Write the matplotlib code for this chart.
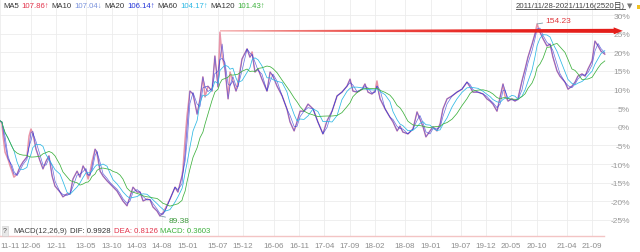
import numpy as np
import pandas as pd
import matplotlib
matplotlib.use("Agg")
import matplotlib.pyplot as plt
from matplotlib.lines import Line2D
from matplotlib.patches import Polygon, Rectangle
from matplotlib.colors import LinearSegmentedColormap
from matplotlib.transforms import IdentityTransform

plt.rcParams['font.family'] = ['Liberation Sans', 'Noto Sans CJK SC', 'DejaVu Sans']

# sampled closes: bar index (0..2519) and % change shown on the right axis
bar = [0, 8, 12, 21, 33, 42, 50, 58, 71, 83, 96, 112, 121, 129, 137, 150, 167, 179, 192, 204,
       217, 229, 250, 262, 279, 292, 304, 321, 333, 346, 358, 367, 375, 383, 396, 404, 417, 429, 446, 458,
       471, 487, 500, 512, 529, 541, 554, 571, 583, 596, 612, 625, 637, 654, 666, 679, 687, 708, 729, 741,
       758, 762, 771, 779, 791, 804, 821, 833, 845, 854, 866, 883, 895, 908, 916, 925, 937, 950, 958, 970,
       983, 991, 1008, 1029, 1041, 1050, 1062, 1075, 1091, 1112, 1125, 1137, 1154, 1175, 1195, 1208, 1225, 1237, 1250, 1266,
       1283, 1304, 1324, 1345, 1362, 1383, 1404, 1424, 1445, 1458, 1470, 1487, 1508, 1520, 1533, 1549, 1562, 1570, 1583, 1604,
       1624, 1637, 1654, 1666, 1678, 1699, 1720, 1737, 1749, 1762, 1774, 1791, 1803, 1820, 1833, 1845, 1862, 1883, 1903, 1924,
       1945, 1958, 1970, 1991, 2012, 2028, 2041, 2053, 2070, 2083, 2095, 2103, 2116, 2132, 2145, 2157, 2174, 2187, 2199, 2216,
       2228, 2237, 2249, 2262, 2278, 2291, 2303, 2320, 2332, 2353, 2366, 2382, 2395, 2407, 2424, 2437, 2449, 2466, 2478, 2491,
       2503, 2519]
close_pct = [1.6, 1.0, -2.0, -6.8, -8.6, -10.5, -11.9, -13.5, -12.7, -10.8, -9.4, -8.1, -2.5, -0.6, -1.9, -6.0, -9.2, -11.3, -9.2, -7.8,
             -13.2, -15.9, -17.5, -18.8, -18.0, -18.0, -14.0, -11.9, -13.5, -10.5, -11.9, -14.0, -12.1, -9.4, -6.0, -7.3, -11.9, -13.2, -14.5, -15.3,
             -16.2, -17.2, -18.6, -19.9, -21.2, -18.8, -16.2, -17.5, -17.5, -19.9, -19.4, -19.6, -21.5, -22.6, -23.9, -23.1, -22.1, -19.4, -16.2, -17.5,
             -13.2, -11.3, -3.3, 2.9, 9.6, 8.8, 3.4, 7.5, 13.4, 8.0, 10.9, 9.6, 19.0, 10.7, 25.4, 19.0, 15.5, 7.5, 14.7, 12.3,
             9.6, 12.0, 18.2, 20.9, 18.7, 20.1, 14.7, 15.5, 12.8, 9.6, 14.7, 13.6, 10.9, 8.3, 4.8, 1.3, -1.1, 1.3, 4.2, 4.2,
             6.1, 4.8, 1.3, -1.9, 1.6, 4.2, 8.3, 9.3, 10.9, 12.8, 9.6, 9.3, 10.1, 11.5, 9.3, 8.8, 9.6, 12.3, 7.5, 4.8,
             2.6, 1.3, -1.1, 0.2, -1.4, -1.9, -0.6, 4.0, 2.1, 0.0, -2.7, -1.1, 0.0, -1.1, 0.8, 4.8, 7.5, 8.3, 9.3, 10.1,
             12.0, 10.7, 9.3, 9.3, 8.8, 7.5, 6.9, 6.1, 4.2, 8.0, 11.5, 8.3, 6.9, 7.5, 6.9, 7.5, 12.3, 15.5, 18.7, 22.2,
             24.9, 27.6, 25.4, 23.6, 21.7, 22.2, 18.7, 15.0, 13.6, 12.0, 10.1, 10.9, 12.0, 13.6, 14.2, 13.6, 15.5, 17.7, 23.0, 21.7,
             20.3, 19.5]

tick_bars = [0, 129, 233, 358, 466, 571, 675, 783, 908, 1012, 1141, 1245, 1350, 1458, 1562, 1687,
             1795, 1920, 2024, 2128, 2237, 2362, 2466]
tick_labels = ['11-11', '12-06', '12-11', '13-05', '13-10', '14-03', '14-08', '15-01', '15-07', '15-12',
               '16-06', '16-11', '17-04', '17-09', '18-02', '18-08', '19-01', '19-07', '19-12', '20-05',
               '20-10', '21-04', '21-09']
pct_ticks = list(range(-25, 31, 5))

ma_names = ['MA5', 'MA10', 'MA20', 'MA60', 'MA120']
ma_windows = [5, 10, 20, 60, 120]
ma_values = ['107.86↑', '107.04↓', '106.14↑', '104.17↑', '101.43↑']
ma_colors = ['#e3344c', '#7b93dc', '#2435d8', '#2db8e4', '#3db13d']

high_label = '154.23'
low_label = '89.38'
date_range = '2011/11/28-2021/11/16(2520日)'
macd_name = 'MACD(12,26,9)'
macd_texts = ['DIF: 0.9928', 'DEA: 0.8126', 'MACD: 0.3603']
macd_colors = ['#333333', '#e3344c', '#3db13d']

W, H = 640, 253
AXW = 625
fig = plt.figure(figsize=(W / 100, H / 100), dpi=100)
ax = fig.add_axes([0, 16 / H, AXW / W, 237 / H])
XL, YL = (0, AXW * 4.165), (-29.3, 34.3)

s = pd.Series(close_pct, index=pd.to_datetime(bar, unit='D'))
mas = {w: s.rolling(f'{w}D', min_periods=1).mean().values for w in ma_windows}

# candle-ish price trace
ax.plot(bar, close_pct, color='#e06a86', lw=1.1, alpha=0.7, zorder=3)
ax.plot(bar, mas[10], color='#6f5fd0', lw=0.55, zorder=4)
ax.plot(bar, mas[20], color=ma_colors[2], lw=0.5, alpha=0.7, zorder=4)
ax.plot(bar, mas[60], color=ma_colors[3], lw=0.55, zorder=4)
ax.plot(bar, mas[120], color=ma_colors[4], lw=0.55, zorder=4)

ax.set_xticks(tick_bars)
ax.set_xticklabels(tick_labels)
ax.set_yticks(pct_ticks)
ax.set_yticklabels([f'{v}%' for v in pct_ticks])
ax.yaxis.tick_right()
ax.tick_params(axis='x', length=0, pad=4.5, labelsize=5.8, labelcolor='#8c8c8c')
ax.tick_params(axis='y', length=0, pad=3.6, labelsize=6, labelcolor='#9a9a9a')
for lbl in ax.get_yticklabels():
    lbl.set_ha('right')
ax.get_xticklabels()[0].set_ha('left')
ax.grid(color='#ececec', lw=0.6)
ax.set_axisbelow(True)
for side in ax.spines:
    ax.spines[side].set_visible(False)
ax.axhline(YL[0], xmin=0, xmax=604 / AXW, color='#f3c4c4', lw=1.0, clip_on=False)

# high / low marks
arr = np.array(close_pct)
i_hi, i_lo = arr.argmax(), arr.argmin()
ax.annotate(high_label, xy=(bar[i_hi], arr[i_hi]), xytext=(6, 2.5), textcoords='offset points',
            ha='left', va='center', fontsize=6, color='#e0393e',
            arrowprops=dict(arrowstyle='-', color='#7a9aa8', lw=0.6, shrinkA=0, shrinkB=0))
ax.annotate(low_label, xy=(bar[i_lo], arr[i_lo]), xytext=(6, -3), textcoords='offset points',
            ha='left', va='center', fontsize=6, color='#3c9a3c',
            arrowprops=dict(arrowstyle='-', color='#7a9aa8', lw=0.6, shrinkA=0, shrinkB=0))

# red tapered arrow from the 2015 top, filled with a gradient
first = [i for i, b in enumerate(bar) if b < 1500]
i15 = max(first, key=lambda i: close_pct[i])
y_lvl = close_pct[i15] + 0.35
x0, x_base, x_tip = bar[i15], 2556, 2594
w0, w1, hh = 0.16, 0.55, 0.95
shape = Polygon([(x0, y_lvl - w0), (x_base, y_lvl - w1), (x_base, y_lvl - hh), (x_tip, y_lvl),
                 (x_base, y_lvl + hh), (x_base, y_lvl + w1), (x0, y_lvl + w0)],
                closed=True, fc='none', ec='none', transform=ax.transData)
ax.add_patch(shape)
cmap = LinearSegmentedColormap.from_list('rg', ['#f3a3a3', '#ec5550', '#e8231f', '#e41e1a'])
grad = np.linspace(0, 1, 256).reshape(1, -1)
im = ax.imshow(grad, cmap=cmap, aspect='auto', extent=(x0, x_tip, y_lvl - hh, y_lvl + hh),
               zorder=6, interpolation='bilinear')
im.set_clip_path(shape)
ax.set_xlim(*XL)
ax.set_ylim(*YL)

fig.canvas.draw()
rend = fig.canvas.get_renderer()


def row(x_px, y_px, parts, size, gap=2.5):
    # lay texts out one after another (x, y in pixels from top-left)
    x = x_px
    for txt, col, fam in parts:
        tt = fig.text(x / W, 1 - y_px / H, txt, fontsize=size, color=col, va='center', family=fam)
        x += tt.get_window_extent(rend).width + gap


fam_a = ['Liberation Sans', 'DejaVu Sans']
parts = []
for name, val, col in zip(ma_names, ma_values, ma_colors):
    parts.append((name, '#333333', fam_a))
    parts.append((val, col, fam_a))
row(3, 6, parts, 5.6, gap=2.6)

dr = fig.text(625 / W, 1 - 6 / H, date_range, fontsize=5.6, color='#444444', va='center', ha='right',
              family=['Liberation Sans', 'Noto Sans CJK SC'])
fig.text(627 / W, 1 - 6 / H, '▼', fontsize=5, color='#777777', va='center', family=['DejaVu Sans'])
fig.add_artist(Rectangle((637 / W, 1 - 10 / H), 3 / W, 4 / H, transform=fig.transFigure,
                         color='#f0c020', lw=0))
bb = dr.get_window_extent(rend)
fig.add_artist(Line2D([bb.x0, bb.x1], [bb.y0 + 0.5, bb.y0 + 0.5], transform=IdentityTransform(),
                      color='#444444', lw=0.6))

# MACD header
fig.text(5 / W, 1 - 232 / H, '?', fontsize=5, color='#555555', va='center', ha='center',
         bbox=dict(boxstyle='square,pad=0.15', fc='#e8e8e8', ec='#cccccc', lw=0.4))
row(13, 232, [(macd_name, '#444444', fam_a)] + [(txt, c, fam_a) for txt, c in zip(macd_texts, macd_colors)],
    5.6, gap=3)

fig.savefig('out.png', dpi=100)
